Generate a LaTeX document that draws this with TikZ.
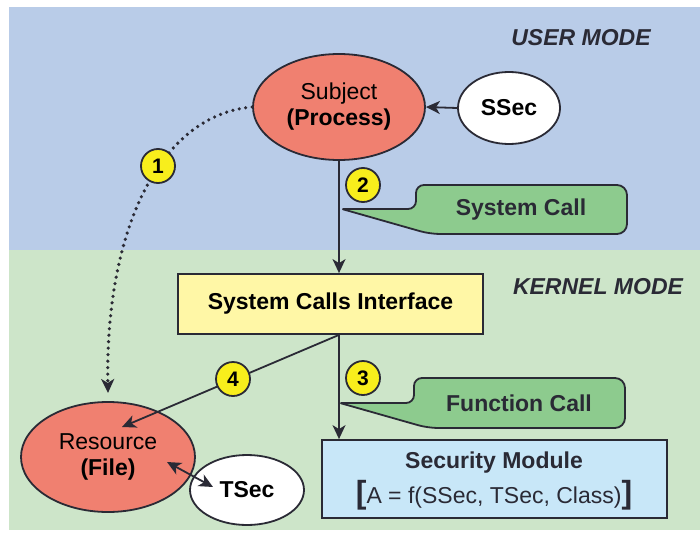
\documentclass[tikz,border=0pt]{standalone}
\usepackage{fontspec}
\setmainfont{Liberation Sans}
\usetikzlibrary{shapes.geometric,arrows.meta,calc}
\definecolor{bgblue}{HTML}{B9CCE8}
\definecolor{bggreen}{HTML}{CDE5C9}
\definecolor{salmon}{HTML}{F08070}
\definecolor{callgreen}{HTML}{8DCB8E}
\definecolor{boxyellow}{HTML}{FFF7A6}
\definecolor{boxblue}{HTML}{C8E7F8}
\definecolor{numyellow}{HTML}{F8EE1C}
\definecolor{ink}{HTML}{2A2A35}
\tikzset{
  oval/.style={ellipse,draw=ink,line width=1.8pt,inner sep=0pt,align=center,font=\fontsize{23}{26}\selectfont},
  boxnode/.style={rectangle,draw=ink,line width=1.8pt,inner sep=0pt,align=center},
  num/.style={circle,draw=ink,line width=1.8pt,fill=numyellow,minimum size=34pt,inner sep=0pt,font=\bfseries\fontsize{21}{21}\selectfont},
  callout/.style={draw=ink,line width=1.8pt,fill=callgreen,line join=round},
  conn/.style={draw=ink,line width=1.8pt,-{Stealth[length=14pt,width=13pt,inset=4pt]}},
  dconn/.style={draw=ink,line width=1.8pt,{Stealth[length=14pt,width=13pt,inset=4pt]}-{Stealth[length=14pt,width=13pt,inset=4pt]}},
  dotconn/.style={draw=ink,line width=3.6pt,line cap=round,dash pattern=on 0pt off 6.5pt,-{Stealth[length=14pt,width=13pt,inset=4pt]}},
  modelabel/.style={font=\bfseries\itshape\fontsize{23}{23}\selectfont,text=ink},
  calltext/.style={font=\bfseries\fontsize{23}{23}\selectfont,text=ink}
}
\begin{document}
\begin{tikzpicture}[x=1pt,y=-1pt]
\useasboundingbox (0,0) rectangle (700,532);
% backgrounds
\fill[bgblue] (9,7) rectangle (700,250);
\fill[bggreen] (9,250) rectangle (700,530);
% mode labels
\node[modelabel] (um) at (581,38) {USER MODE};
\node[modelabel] (km) at (598,287) {KERNEL MODE};
% callouts
\draw[callout] (416,185) [rounded corners=10pt] -- (627,185) -- (627,234) -- (430,234) [rounded corners=1pt] -- (342,209) [rounded corners=8pt] -- (416,209) -- cycle;
\node[calltext] (sc) at (521,210) {System Call};
\draw[callout] (414,378) [rounded corners=10pt] -- (625,378) -- (625,428) -- (428,428) [rounded corners=1pt] -- (340,403) [rounded corners=8pt] -- (414,403) -- cycle;
\node[calltext] (fc) at (519,403) {Function Call};
% main nodes
\node[oval,fill=salmon,minimum width=172pt,minimum height=106pt] (subj) at (339,107) {Subject\\\textbf{(Process)}};
\node[oval,fill=white,minimum width=102pt,minimum height=72pt] (ssec) at (509,108) {\textbf{SSec}};
\node[boxnode,fill=boxyellow,minimum width=305pt,minimum height=60pt,font=\bfseries\fontsize{23}{23}\selectfont] (sci) at (330.5,304) {System Calls Interface};
\node[boxnode,fill=boxblue,minimum width=345pt,minimum height=78pt] (sec) at (494.5,479) {};
\node[font=\bfseries\fontsize{23}{23}\selectfont,text=ink] (sect1) at (494,463) {Security Module};
\node[font=\fontsize{23}{23}\selectfont,text=ink] (sect2) at (494,495) {{\bfseries\fontsize{32}{32}\selectfont[}A = f(SSec, TSec, Class){\bfseries\fontsize{32}{32}\selectfont]}};
\node[oval,fill=salmon,minimum width=174pt,minimum height=110pt] (res) at (108,457) {Resource\\\textbf{(File)}};
\node[oval,fill=white,minimum width=114pt,minimum height=70pt] (tsec) at (247,490) {\textbf{TSec}};
% connectors
\coordinate (j) at (sci.south -| subj.south);
\coordinate (restip) at (122,427);
\coordinate (ra) at (167,462);
\coordinate (ta) at (213,487);
\coordinate (dottip) at (108,393);
\draw[conn] (ssec.west) -- (subj.east);
\draw[conn] (subj.south) -- (subj.south |- sci.north);
\draw[conn] (j) -- (j |- sec.north);
\draw[conn] (j) -- (restip);
\draw[dconn] (ra) -- (ta);
\draw[dotconn] (subj.west) .. controls (160,115) and (105,230) .. (dottip);
% numbers
\node[num] (n1) at (158,166) {1};
\node[num] (n2) at (363,185) {2};
\node[num] (n3) at (363,378) {3};
\node[num] (n4) at (233,379) {4};
\end{tikzpicture}
\end{document}
